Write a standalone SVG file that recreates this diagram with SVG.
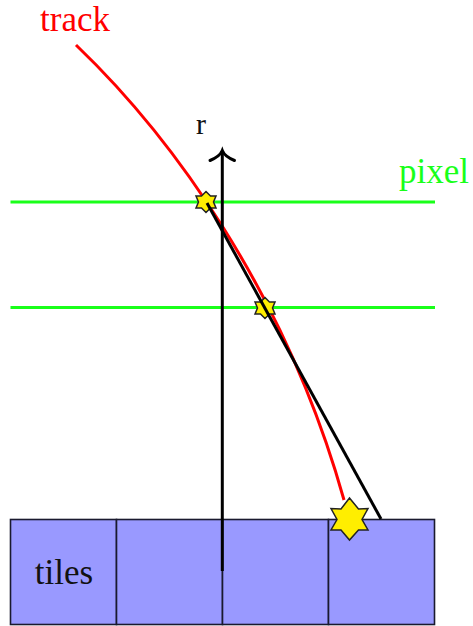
<svg xmlns="http://www.w3.org/2000/svg" width="473" height="626" viewBox="0 0 473 626">
<style>
text{font-family:"Liberation Serif","Times New Roman",serif}
.tile{fill:#9999ff;stroke:#1a1a2e;stroke-width:1.6}
.pixel{stroke:#19ff19;stroke-width:3;fill:none}
.track{stroke:#ff0000;stroke-width:3;fill:none}
.blk{stroke:#000;stroke-width:3;fill:none}
.star{fill:#ffee00;stroke:#222;stroke-width:1.5;stroke-linejoin:miter}
</style>
<rect width="473" height="626" fill="#fff"/>
<g id="tiles">
<rect class="tile" x="10.500" y="519.500" width="106" height="105"/>
<rect class="tile" x="116.500" y="519.500" width="106" height="105"/>
<rect class="tile" x="222.500" y="519.500" width="106" height="105"/>
<rect class="tile" x="328.500" y="519.500" width="106" height="105"/>
<text x="64" y="584" font-size="35" text-anchor="middle" fill="#111">tiles</text>
</g>
<g id="connectors">
<path class="track" d="M76 45C170 135 285 290 344 500"/>
<path class="pixel" d="M10.500 202H435"/>
<path class="pixel" d="M10.500 307.500H435"/>
</g>
<g id="star-large"><polygon class="star" points="349.500,498 358.500,509 368,508.500 362,519.500 368,530 358.500,530 349.500,540 341,530 331,530 337,519.500 331,508.500 341,509"/></g>
<g id="star-top"><polygon class="star" points="206,191.500 210.500,196 216,196 213.500,202 216,208 210.500,208 206,212.500 201.500,208 196,208 198.500,202 196,196 201.500,196"/></g>
<g id="star-mid"><polygon class="star" points="265,297.500 269.500,302 275,302 272.500,308 275,314 269.500,314 265,318.500 260.500,314 255,314 257.500,308 255,302 260.500,302"/></g>
<g id="axis">
<path class="blk" d="M222.300 571V151"/>
<path class="blk" stroke-linecap="round" d="M210 160.500C216 158 220.500 155 222.300 150.500C224 155 228.500 158 234.500 160.500"/>
<path class="blk" d="M207 203L381 519"/>
<text x="201" y="134" font-size="30" text-anchor="middle" fill="#111">r</text>
</g>
<g id="label-track"><text x="75" y="31" font-size="35" text-anchor="middle" fill="#ff0000">track</text></g>
<g id="label-pixel"><text x="434" y="183" font-size="35" text-anchor="middle" fill="#19ff19">pixel</text></g>
</svg>
